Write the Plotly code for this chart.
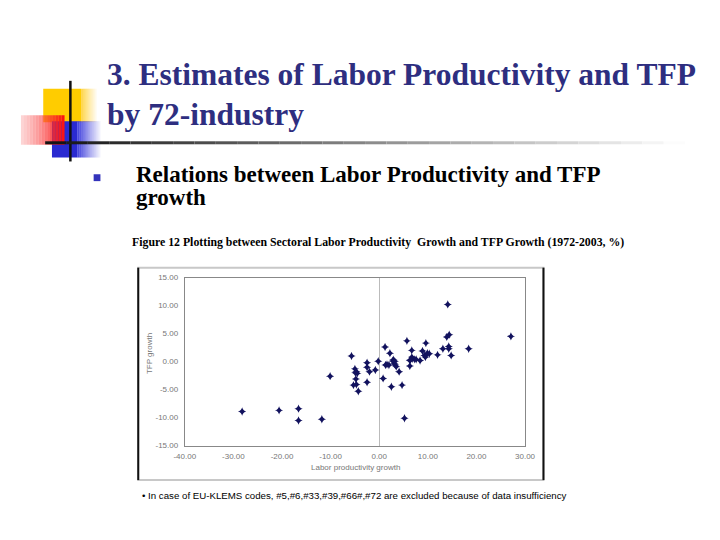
import plotly.graph_objects as go

# ---- data ----
labor_productivity_growth = [
    -28.2, -20.6, -16.6, -16.6, -11.8, -10.1, -5.7, -5.0, -4.7, -4.5,
    -4.8, -5.3, -4.7, -4.3, -2.5, -2.5, -2.0, -0.8, -0.2, -2.5,
    0.8, 1.2, 2.2, 1.3, 1.6, 2.8, 3.1, 3.3, 3.5, 4.1,
    2.5, 4.7, 5.2, 5.7, 6.7, 6.3, 6.3, 6.7, 6.9, 7.3,
    7.6, 8.4, 8.9, 9.3, 9.5, 9.6, 9.9, 10.3, 12.0, 13.1,
    13.9, 14.4, 14.1, 27.1, 14.3, 14.3, 14.8, 18.4, 2.9, 3.2,
    2.0, -4.9, 6.4,
]
tfp_growth = [
    -8.9, -8.7, -8.4, -10.5, -10.3, -2.6, 1.0, -1.3, -1.8, -2.1,
    -3.1, -4.2, -4.1, -5.3, -0.2, -1.0, -1.8, -1.5, 0.05, -3.7,
    -3.0, 2.6, 1.5, -0.6, -0.5, 0.1, -0.3, -0.6, -0.9, -1.8,
    -4.5, -4.2, -10.1, 3.7, 2.0, 0.2, -0.8, 0.8, 0.5, 0.4,
    0.4, 0.2, 1.9, 1.1, 0.8, 3.3, 1.5, 1.4, 1.2, 2.3,
    4.4, 4.8, 10.2, 4.5, 2.7, 2.3, 1.1, 2.3, 0.35, 0.05,
    -0.6, -2.0, 0.3,
]
x_ticks = [-40, -30, -20, -10, 0, 10, 20, 30]
y_ticks = [-15, -10, -5, 0, 5, 10, 15]

W, H = 720, 540
OFF = 8  # page body margin shifts the figure by 8px


def px(x):
    return (x - OFF) / W


def py(y):
    return 1 - (y - OFF) / H


fig = go.Figure()
fig.add_trace(go.Scatter(
    x=labor_productivity_growth, y=tfp_growth, mode="markers",
    marker=dict(symbol="star-diamond", size=6, color="#12125e",
                line=dict(width=0)),
    hoverinfo="x+y", showlegend=False,
))

shapes = []
# chart frame
shapes.append(dict(type="rect", xref="paper", yref="paper",
                   x0=px(131), x1=px(549), y0=py(484), y1=py(268),
                   line=dict(color="#c8c8c8", width=2), fillcolor="white", layer="below"))
shapes.append(dict(type="line", xref="paper", yref="paper",
                   x0=px(131), x1=px(131), y0=py(484), y1=py(268),
                   line=dict(color="#111111", width=2)))
shapes.append(dict(type="line", xref="paper", yref="paper",
                   x0=px(549), x1=px(549), y0=py(484), y1=py(268),
                   line=dict(color="#111111", width=2)))

# decorative squares
shapes.append(dict(type="rect", xref="paper", yref="paper",
                   x0=px(33), x1=px(72), y0=py(120), y1=py(86),
                   line=dict(width=0), fillcolor="#ffcc00"))
for i in range(8):
    a = 1 - (i + 1) / 9
    shapes.append(dict(type="rect", xref="paper", yref="paper",
                       x0=px(72 + i * 2), x1=px(74 + i * 2), y0=py(120), y1=py(86),
                       line=dict(width=0), fillcolor="rgba(255,210,60,%.2f)" % a))
shapes.append(dict(type="rect", xref="paper", yref="paper",
                   x0=px(42), x1=px(68), y0=py(156), y1=py(119),
                   line=dict(width=0), fillcolor="#2a2ad0"))
for i in range(12):
    a = 1 - (i + 1) / 13
    shapes.append(dict(type="rect", xref="paper", yref="paper",
                       x0=px(68 + i * 2), x1=px(70 + i * 2), y0=py(156), y1=py(119),
                       line=dict(width=0), fillcolor="rgba(60,60,220,%.2f)" % a))
for i in range(15):
    a = (i + 1) / 15
    shapes.append(dict(type="rect", xref="paper", yref="paper",
                       x0=px(10 + i * 3), x1=px(13 + i * 3), y0=py(143), y1=py(113),
                       line=dict(width=0),
                       fillcolor="rgba(250,%d,%d,%.2f)" % (int(120 - 100 * a), int(120 - 100 * a), 0.25 + 0.75 * a)))
shapes.append(dict(type="line", xref="paper", yref="paper",
                   x0=px(61), x1=px(61), y0=py(160), y1=py(78),
                   line=dict(color="#111111", width=2.5)))
n = 30
for i in range(n):
    t = i / (n - 1)
    g = int(20 + 232 * t)
    shapes.append(dict(type="line", xref="paper", yref="paper",
                       x0=px(35 + i * (660 / n)), x1=px(35 + (i + 1) * (660 / n)),
                       y0=py(141), y1=py(141),
                       line=dict(color="rgb(%d,%d,%d)" % (g, g, g), width=3)))
# bullet
shapes.append(dict(type="rect", xref="paper", yref="paper",
                   x0=px(85), x1=px(92), y0=py(180), y1=py(173),
                   line=dict(width=0), fillcolor="#3333bb"))

serif = "Liberation Serif"
sans = "Liberation Sans"
ann = []


def text(t, x, y, size, color, family, xanchor="left", angle=0):
    ann.append(dict(text=t, x=px(x), y=py(y), xref="paper", yref="paper",
                    xanchor=xanchor, yanchor="middle", showarrow=False, textangle=angle,
                    font=dict(family=family, size=size, color=color)))


text("<b>3. Estimates of Labor Productivity and TFP</b>", 97, 72, 31.5, "#2e2e80", serif)
text("<b>by 72-industry</b>", 97, 112, 31.5, "#2e2e80", serif)
text("<b>Relations between Labor Productivity and TFP</b>", 127, 173, 23, "black", serif)
text("<b>growth</b>", 127, 197, 23, "black", serif)
text("<b>Figure 12 Plotting between Sectoral Labor Productivity  Growth and TFP Growth (1972-2003, %)</b>",
     123, 242, 11.8, "black", serif)
text("Labor productivity growth", 355, 471, 8, "#777777", sans, xanchor="center")
text("TFP growth", 142, 355, 8, "#777777", sans, xanchor="center", angle=-90)
text("• In case of EU-KLEMS codes, #5,#6,#33,#39,#66#,#72 are excluded because of data insufficiency",
     133, 500, 9.7, "black", sans)

fig.update_layout(
    width=W, height=H, margin=dict(l=0, r=0, t=0, b=0),
    paper_bgcolor="white", plot_bgcolor="white",
    shapes=shapes, annotations=ann, showlegend=False,
    xaxis=dict(domain=[px(179), px(530)], range=[-40, 30], tickvals=x_ticks,
               ticktext=["%.2f" % v for v in x_ticks], showgrid=False,
               zeroline=True, zerolinecolor="#bbbbbb", zerolinewidth=1,
               showline=True, mirror=True, linecolor="#888888", linewidth=1,
               ticks="outside", ticklen=3, tickcolor="rgba(0,0,0,0)",
               tickfont=dict(family=sans, size=8, color="#777777")),
    yaxis=dict(domain=[py(449), py(278)], range=[-15, 15], tickvals=y_ticks,
               ticktext=["%.2f" % v for v in y_ticks], showgrid=False,
               zeroline=False,
               showline=True, mirror=True, linecolor="#888888", linewidth=1,
               ticks="outside", ticklen=4, tickcolor="rgba(0,0,0,0)",
               tickfont=dict(family=sans, size=8, color="#777777")),
)

fig.write_html("out.html")
